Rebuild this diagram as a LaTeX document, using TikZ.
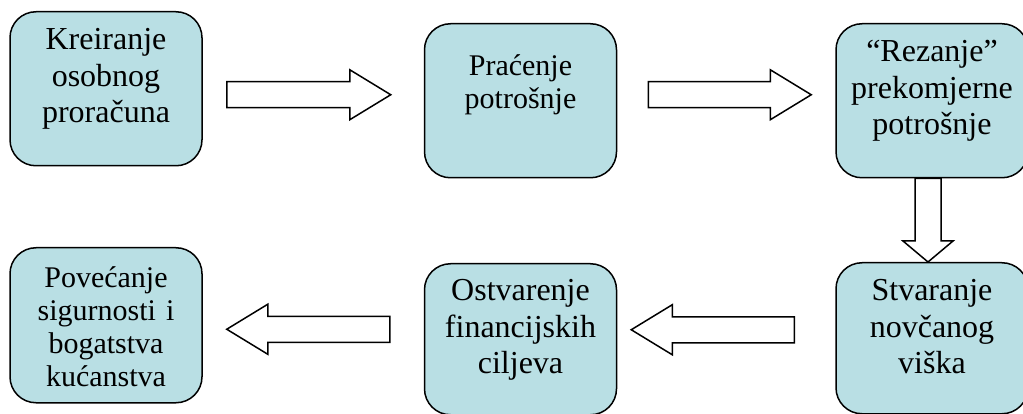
\documentclass[tikz,border=0pt]{standalone}
\usepackage{fontspec}
\setmainfont{Liberation Serif}
\usetikzlibrary{calc}

\definecolor{boxblue}{RGB}{185,223,228}

\tikzset{
  head len/.store in=\headlen, head len=41pt,
  fat/.style={draw,line width=1.5pt,fill=white,line join=miter,
    to path={let \p1=($(\tikztotarget)!\headlen!(\tikztostart)$) in
      ($(\tikztostart)!13pt!90:(\tikztotarget)$) -- ($(\p1)!13pt!-90:(\tikztostart)$)
      -- ($(\p1)!25pt!-90:(\tikztostart)$) -- (\tikztotarget)
      -- ($(\p1)!25pt!90:(\tikztostart)$) -- ($(\p1)!13pt!90:(\tikztostart)$)
      -- ($(\tikztostart)!13pt!-90:(\tikztotarget)$) -- cycle}}
}

\begin{document}
\begin{tikzpicture}[x=1pt,y=1pt,
  box/.style={draw,line width=1.5pt,rounded corners=26pt,fill=boxblue,anchor=north,
              minimum width=192pt,inner sep=0pt,text width=186pt,align=center,
              text height=38pt,text depth=116pt,font=\fontsize{32}{36.5}\selectfont},
  small/.style={font=\fontsize{30}{33}\selectfont}
]
\useasboundingbox (0,0) rectangle (1023,-414);
% top row
\node[box] (kr) at (106,-11) {Kreiranje\\osobnog\\proračuna};
\node[box,small,text height=52pt,text depth=102pt] (pr) at (520.5,-23) {Praćenje\\potrošnje};
\node[box] (rz) at (932,-23) {“Rezanje”\\prekomjerne\\potrošnje};
% bottom row
\node[box,text depth=113pt] (st) at (932,-262) {Stvaranje\\novčanog\\viška};
\node[box,text height=37pt,text depth=114pt] (os) at (520.5,-263) {Ostvarenje\\financijskih\\ciljeva};
\node[box,small,text height=40pt,text depth=115pt] (po) at (106,-247) {Povećanje\\sigurnosti i\\bogatstva\\kućanstva};
% arrow ends
\coordinate (a1s) at ([shift={(24,-6)}]kr.east);
\coordinate (a1e) at ([shift={(-33,6)}]pr.west);
\coordinate (a2s) at ([shift={(31,6)}]pr.east);
\coordinate (a2e) at ([shift={(-24,6)}]rz.west);
\coordinate (a3s) at ([xshift=-4pt]rz.south);
\coordinate (a3e) at ([xshift=-4pt]st.north);
\coordinate (a4s) at ([shift={(-41,8.5)}]st.west);
\coordinate (a4e) at ([shift={(14,9.5)}]os.east);
\coordinate (a5s) at ([shift={(-34,10)}]os.west);
\coordinate (a5e) at ([shift={(24,-4)}]po.east);
\draw[fat] (a1s) to (a1e);
\draw[fat] (a2s) to (a2e);
\draw[fat,head len=21pt] (a3s) to (a3e);
\draw[fat] (a4s) to (a4e);
\draw[fat] (a5s) to (a5e);
\end{tikzpicture}
\end{document}
